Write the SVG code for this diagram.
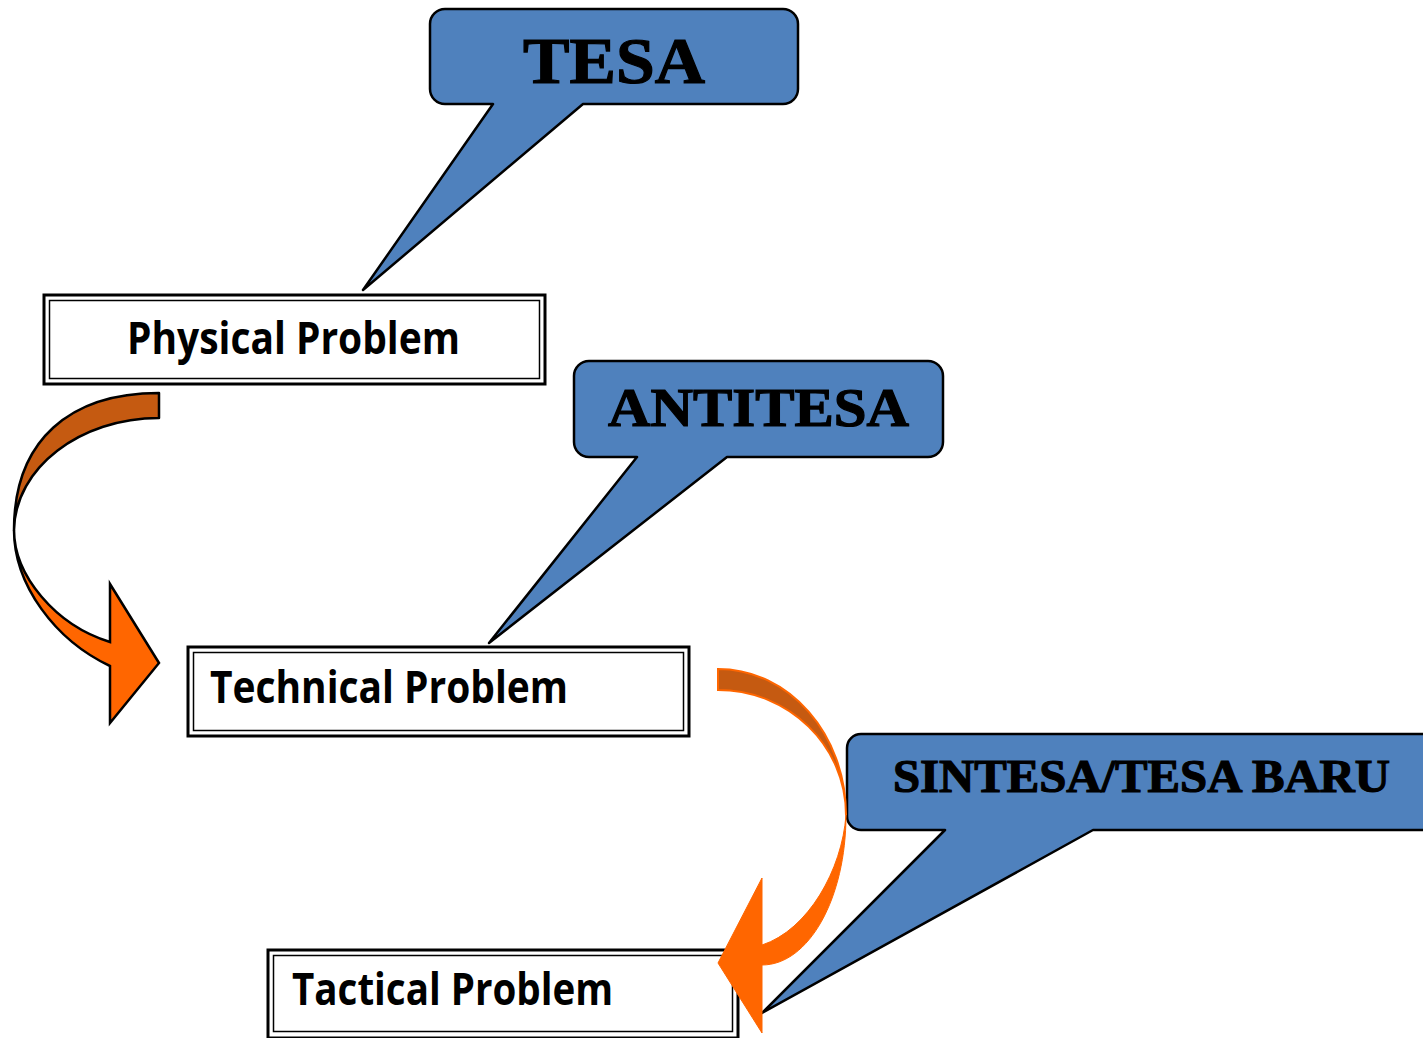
<svg xmlns="http://www.w3.org/2000/svg" width="1423" height="1038" viewBox="0 0 1423 1038">
  <style>
    .callout { fill: #4F81BD; stroke: #000; stroke-width: 2.5; stroke-linejoin: round; }
    .ctext { font-family: "Liberation Serif", "DejaVu Serif", serif; font-weight: 900; fill: #000; stroke: #000; stroke-width: 1.2; }
    .outer { fill: #fff; stroke: #000; stroke-width: 3; }
    .inner { fill: none; stroke: #000; stroke-width: 1.5; }
    .btext { font-family: "Open Sans", "Liberation Sans", sans-serif; font-weight: 700; font-size: 44px; fill: #000; }
    .dark1 { fill: #C55A11; stroke: #000; stroke-width: 2.5; stroke-linejoin: round; }
    .light1 { fill: #FF6600; stroke: #000; stroke-width: 2.5; stroke-linejoin: miter; }
    .dark2 { fill: #C55A11; stroke: #FF6600; stroke-width: 2; }
    .light2 { fill: #FF6600; stroke: #FF6600; stroke-width: 1; }
  </style>
  <rect width="1423" height="1038" fill="#fff"/>

  <g id="box-physical">
    <rect class="outer" x="44" y="295" width="501" height="89"/>
    <rect class="inner" x="49.5" y="300.5" width="490" height="78"/>
    <text class="btext" x="127" y="354" textLength="333" lengthAdjust="spacingAndGlyphs">Physical Problem</text>
  </g>

  <g id="box-technical">
    <rect class="outer" x="188" y="647" width="501" height="89"/>
    <rect class="inner" x="193.5" y="652.5" width="490" height="78"/>
    <text class="btext" x="210" y="703" textLength="358" lengthAdjust="spacingAndGlyphs">Technical Problem</text>
  </g>

  <g id="box-tactical">
    <rect class="outer" x="268" y="950" width="470" height="88"/>
    <rect class="inner" x="273.5" y="955.5" width="459" height="76"/>
    <text class="btext" x="292" y="1005" textLength="321" lengthAdjust="spacingAndGlyphs">Tactical Problem</text>
  </g>

  <g id="callout-tesa">
    <path class="callout" d="M445,9 H783 A15,15 0 0 1 798,24 V89 A15,15 0 0 1 783,104 H583 L363,290 L493,104 H445 A15,15 0 0 1 430,89 V24 A15,15 0 0 1 445,9 Z"/>
    <text class="ctext" x="614" y="83" font-size="65" text-anchor="middle" textLength="182" lengthAdjust="spacingAndGlyphs">TESA</text>
  </g>

  <g id="callout-antitesa">
    <path class="callout" d="M589,361 H928 A15,15 0 0 1 943,376 V442 A15,15 0 0 1 928,457 H727 L489,643 L637,457 H589 A15,15 0 0 1 574,442 V376 A15,15 0 0 1 589,361 Z"/>
    <text class="ctext" x="758.5" y="426" font-size="54" text-anchor="middle" textLength="301" lengthAdjust="spacingAndGlyphs">ANTITESA</text>
  </g>

  <g id="callout-sintesa">
    <path class="callout" d="M861,734 H1445 V830 H1093 L762,1013 L945,830 H861 A14,14 0 0 1 847,816 V748 A14,14 0 0 1 861,734 Z"/>
    <text class="ctext" x="893" y="792" font-size="46" textLength="497" lengthAdjust="spacingAndGlyphs">SINTESA/TESA BARU</text>
  </g>

  <g id="connectors">
    <g id="arrow-physical-technical">
      <path class="dark1" d="M159,393 C70,393 14,440 14,530 C15,468 80,418 159,418 Z"/>
      <path class="light1" d="M14,530 C14,585 55,640 110,666 L110,723 L159,663 L110,584 L110,642 C55,625 14,575 14,530 Z"/>
    </g>
    <g id="arrow-technical-tactical">
      <path class="dark2" d="M718,669 C789,669 846,734 846,815 C846,746 789,690 718,690 Z"/>
      <path class="light2" d="M846,815 C846,898 809,965 762,965 L762,1033 L718,963 L762,878 L762,945 C808,930 842,870 846,815 Z"/>
    </g>
  </g>
</svg>
